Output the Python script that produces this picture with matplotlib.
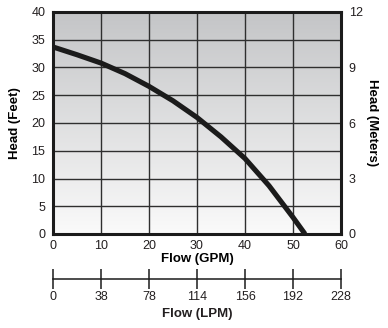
import numpy as np
import matplotlib
matplotlib.use("Agg")
import matplotlib.pyplot as plt

# pump performance curve
gpm = [0, 5, 10, 15, 20, 25, 30, 35, 40, 45, 50, 52.5]
head_ft = [33.7, 32.3, 30.8, 28.9, 26.6, 24.0, 21.0, 17.5, 13.6, 8.7, 3.0, 0]

gpm_ticks = [0, 10, 20, 30, 40, 50, 60]
lpm_labels = ["0", "38", "78", "114", "156", "192", "228"]
ft_ticks = [0, 5, 10, 15, 20, 25, 30, 35, 40]
m_ticks = [0, 3, 6, 9, 12]

INK = "#231f20"
GRID = "#2f2f2f"
TICK_FS = 9

plt.rcParams.update({"font.family": ["Liberation Sans", "DejaVu Sans"],
                     "font.size": TICK_FS, "text.color": INK})

W, H = 388, 328
fig = plt.figure(figsize=(W / 100, H / 100), dpi=100)
L, R, T, B = 53, 341, 12, 234
ax = fig.add_axes([L / W, 1 - B / H, (R - L) / W, (B - T) / H])

# grey-to-white vertical gradient behind the grid (darker at the top)
grad = np.linspace(0, 1, 256).reshape(-1, 1)
cmap = matplotlib.colors.LinearSegmentedColormap.from_list("bg", ["#c4c5c7", "#fafafa"])
ax.imshow(grad, aspect="auto", cmap=cmap, origin="upper",
          extent=[0, 60, 0, 40], zorder=0)

ax.set_xlim(0, 60)
ax.set_ylim(0, 40)
ax.set_xticks(gpm_ticks)
ax.set_yticks(ft_ticks)
for v in gpm_ticks[1:-1]:
    ax.axvline(v, color=GRID, lw=1.0, zorder=1)
for v in ft_ticks[1:-1]:
    ax.axhline(v, color=GRID, lw=1.0, zorder=1)

ax.plot(gpm, head_ft, color="#1b1b1b", lw=3.7, solid_capstyle="butt",
        solid_joinstyle="round", zorder=3)

for s in ax.spines.values():
    s.set_linewidth(2.2)
    s.set_color("#1b1b1b")
    s.set_zorder(4)
ax.tick_params(length=0, colors=INK, labelsize=TICK_FS)
ax.tick_params(axis="x", pad=4.5)
ax.tick_params(axis="y", pad=5.5)

ax.set_ylabel("Head (Feet)", fontweight="bold", fontsize=9.5, va="center")
ax.yaxis.set_label_coords((15 - L) / (R - L), 0.5)
ax.set_xlabel("Flow (GPM)", fontweight="bold", fontsize=9.5, va="center")
ax.xaxis.set_label_coords(0.5, (B - 259) / (B - T))

# metres on the right
axr = ax.twinx()
axr.set_ylim(0, 12)
axr.set_yticks(m_ticks)
axr.tick_params(length=0, colors=INK, labelsize=TICK_FS, pad=5.5)
for s in axr.spines.values():
    s.set_visible(False)
axr.set_ylabel("Head (Meters)", fontweight="bold", fontsize=9.5, rotation=270, va="center")
axr.yaxis.set_label_coords((372 - L) / (R - L), 0.5)

# litres-per-minute scale underneath
y_lpm = 279
axl = fig.add_axes([L / W, 1 - y_lpm / H, (R - L) / W, 0.001])
axl.set_xlim(0, 60)
axl.set_xticks(gpm_ticks)
axl.set_xticklabels(lpm_labels)
axl.set_yticks([])
axl.patch.set_visible(False)
for k in ("top", "left", "right"):
    axl.spines[k].set_visible(False)
axl.spines["bottom"].set_linewidth(1.1)
axl.spines["bottom"].set_color("#1b1b1b")
axl.tick_params(axis="x", direction="inout", length=14.5, width=1.1,
                color="#1b1b1b", labelcolor=INK, labelsize=TICK_FS, pad=1.5)
fig.text((L + R) / 2 / W, 1 - 314 / H, "Flow (LPM)", ha="center", va="center",
         fontweight="bold", fontsize=9.5)

fig.savefig("out.png", dpi=100, facecolor="white")
